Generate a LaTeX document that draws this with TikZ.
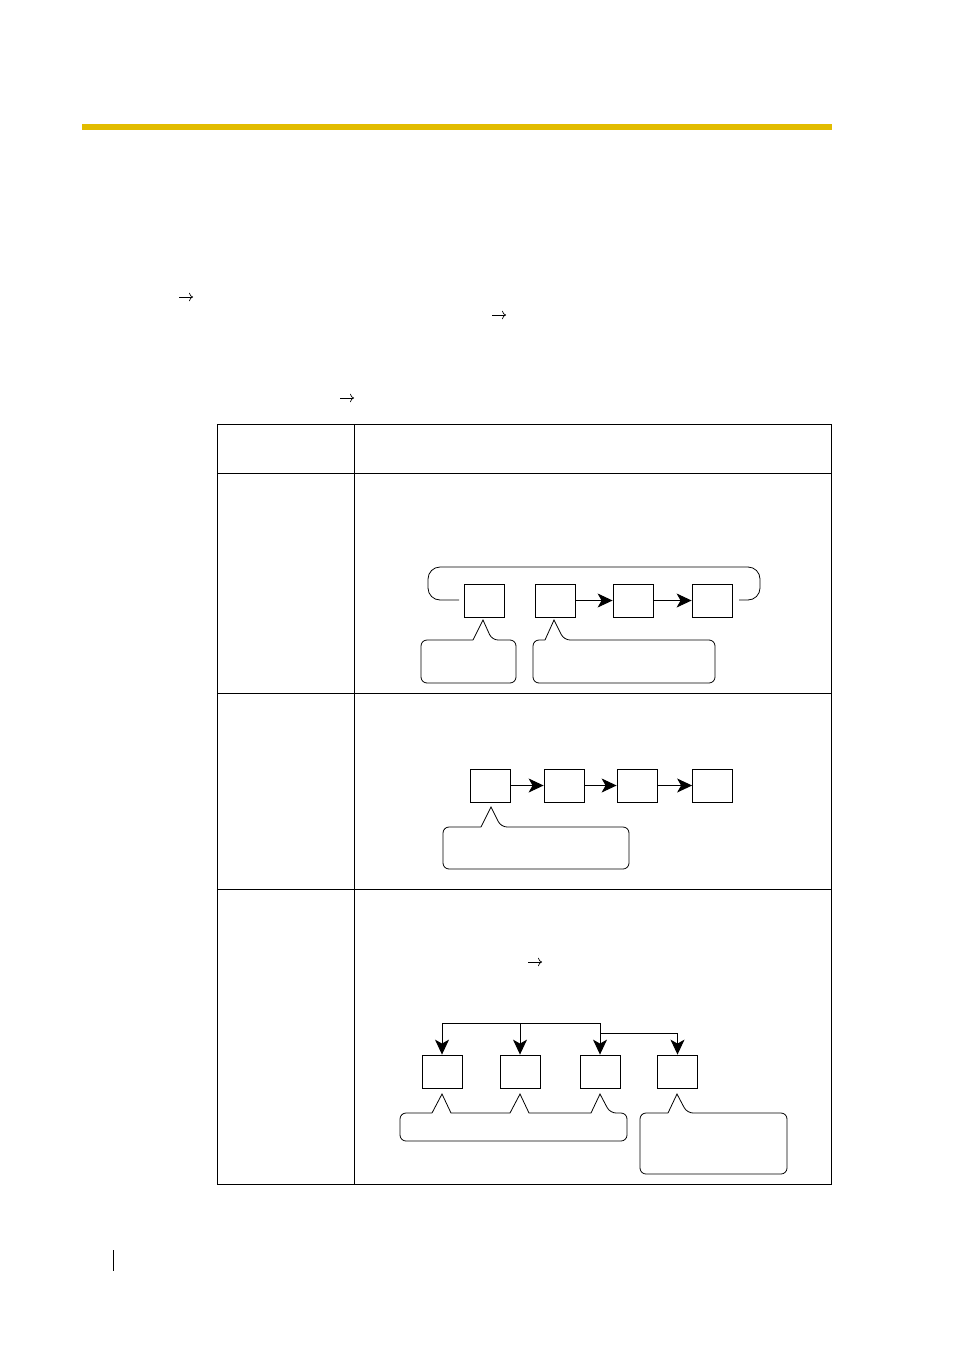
\documentclass[tikz,border=0pt]{standalone}
\usetikzlibrary{arrows.meta}
\definecolor{gold}{RGB}{226,188,0}
\begin{document}
\begin{tikzpicture}[x=1pt,y=-1pt,
  bx/.style={draw,line width=0.8pt,minimum width=40pt,minimum height=33pt,inner sep=0pt},
  ar/.style={-{Stealth[length=15pt,width=14pt,inset=4pt]},line width=1pt},
  sa/.style={-{To[length=4pt]},line width=0.7pt},
  co/.style={draw,line width=0.8pt,rounded corners=6pt},
  ln/.style={line width=0.8pt}]
\useasboundingbox (0,0) rectangle (954,1351);
\draw[gold,line width=5.5pt] (82,127) -- (832,127);
\draw[line width=0.8pt] (113,1250) -- (113,1271);
% small text arrows
\coordinate (s1a) at (179,297); \coordinate (s1b) at (193,297);
\coordinate (s2a) at (492,315); \coordinate (s2b) at (506,315);
\coordinate (s3a) at (340,398); \coordinate (s3b) at (354,398);
\coordinate (s4a) at (528,962); \coordinate (s4b) at (542,962);
\draw[sa] (s1a)--(s1b); \draw[sa] (s2a)--(s2b); \draw[sa] (s3a)--(s3b); \draw[sa] (s4a)--(s4b);
% table
\draw[ln] (217,424) rectangle (831,1184);
\draw[ln] (354,424) -- (354,1184);
\draw[ln] (217,473) -- (831,473);
\draw[ln] (217,693) -- (831,693);
\draw[ln] (217,889) -- (831,889);
% diagram 1
\node[bx] (a1) at (484,600.5) {};
\node[bx] (a2) at (555,600.5) {};
\node[bx] (a3) at (633,600.5) {};
\node[bx] (a4) at (712,600.5) {};
\draw[ar] (a2) -- (a3); \draw[ar] (a3) -- (a4);
\coordinate (l1) at (459,600); \coordinate (l2) at (739,600);
\draw[ln,rounded corners=12pt] (l1) -- (428,600) -- (428,567) -- (760,567) -- (760,600) -- (l2);
\draw[co] (473,640) -- (421,640) -- (421,683) -- (516,683) -- (516,640) -- (492,640) [sharp corners] -- (483,620) -- (473,640);
\draw[co] (545,640) -- (533,640) -- (533,683) -- (715,683) -- (715,640) -- (564,640) [sharp corners] -- (554,620) -- (545,640);
% diagram 2
\node[bx] (b1) at (490.5,785.5) {};
\node[bx] (b2) at (564,785.5) {};
\node[bx] (b3) at (637,785.5) {};
\node[bx] (b4) at (712.5,785.5) {};
\draw[ar] (b1) -- (b2); \draw[ar] (b2) -- (b3); \draw[ar] (b3) -- (b4);
\draw[co] (481,827) -- (443,827) -- (443,869) -- (629,869) -- (629,827) -- (501,827) [sharp corners] -- (491,807) -- (481,827);
% diagram 3
\node[bx] (c1) at (442,1071.5) {};
\node[bx] (c2) at (520,1071.5) {};
\node[bx] (c3) at (600,1071.5) {};
\node[bx] (c4) at (677.5,1071.5) {};
\coordinate (t1) at (442,1023); \coordinate (t2) at (520,1023); \coordinate (t3) at (600,1023);
\coordinate (t4) at (600,1033); \coordinate (t5) at (677.5,1033);
\draw[ln] (t1) -- (t3) -- (t4) -- (t5);
\draw[ar] (t1) -- (c1); \draw[ar] (t2) -- (c2); \draw[ar] (t3) -- (c3); \draw[ar] (t5) -- (c4);
\draw[co] (432,1113) -- (400,1113) -- (400,1141) -- (627,1141) -- (627,1113) -- (610,1113) [sharp corners] -- (600,1094) -- (591,1113) -- (529,1113) -- (520,1094) -- (510,1113) -- (451,1113) -- (442,1094) -- (432,1113);
\draw[co] (668,1113) -- (640,1113) -- (640,1174) -- (787,1174) -- (787,1113) -- (687,1113) [sharp corners] -- (677,1094) -- (668,1113);
\end{tikzpicture}
\end{document}
